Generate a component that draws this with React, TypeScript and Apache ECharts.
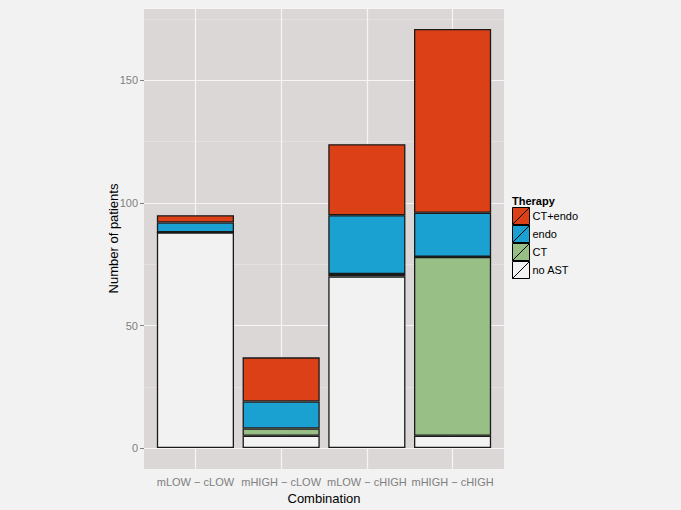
import React, { useEffect, useRef } from "react";
import * as echarts from "echarts";

const categories = ["mLOW − cLOW", "mHIGH − cLOW", "mLOW − cHIGH", "mHIGH − cHIGH"];
const noAST = [88, 5, 70, 5];
const ctOnly = [0, 3, 1, 73];
const endo = [4, 11, 24, 18];
const ctEndo = [3, 18, 29, 75];

const FONT = "Liberation Sans";

export default function App() {
  const ref = useRef<HTMLDivElement>(null);
  useEffect(() => {
    if (!ref.current) return;
    const chart = echarts.init(ref.current, null, { renderer: "svg" });
    const yMax = Math.max(...categories.map((_, i) => noAST[i] + ctOnly[i] + endo[i] + ctEndo[i]));
    const pad = yMax * 0.05;
    const yMin = -pad;
    const yTop = yMax + pad;
    const panelLeft = 144;
    const panelTop = 8;
    const panelWidth = 360;
    const panelHeight = 461;
    const unit = panelWidth / (categories.length - 1 + 1.2);
    const inset = unit * 0.1;
    const posHeight = (yTop / (yTop - yMin)) * panelHeight;
    const border = { borderColor: "#1a1a1a", borderWidth: 1.3 };
    const mkSeries = (name: string, data: number[], color: string, extra: any = {}) => ({
      name,
      type: "bar",
      xAxisIndex: 2,
      yAxisIndex: 2,
      stack: "total",
      barWidth: "90%",
      data,
      itemStyle: { color, ...border },
      ...extra,
    });
    chart.setOption({
      animation: false,
      backgroundColor: "#F2F2F2",
      textStyle: { fontFamily: FONT },
      grid: [
        { left: panelLeft, top: panelTop, width: panelWidth, height: panelHeight, show: true, backgroundColor: "#DBD7D7", borderWidth: 0, containLabel: false, outerBoundsMode: "none" },
        { left: panelLeft, top: panelTop, width: panelWidth, height: posHeight, containLabel: false, outerBoundsMode: "none" },
        { left: panelLeft + inset, top: panelTop, width: panelWidth - 2 * inset, height: panelHeight, containLabel: false, outerBoundsMode: "none" },
      ],
      xAxis: [
        { gridIndex: 0, type: "value", min: 0, max: 1, show: false },
        { gridIndex: 1, type: "value", min: 0, max: 1, show: false },
        {
          gridIndex: 2,
          type: "category",
          data: categories,
          axisLine: { show: false },
          axisTick: { show: true, alignWithLabel: true, length: 4, lineStyle: { color: "#7f7f7f" } },
          axisLabel: { color: "#7f7f7f", fontSize: 11, margin: 7, interval: 0, fontFamily: FONT },
          splitLine: { show: false },
          name: "Combination",
          nameLocation: "middle",
          nameGap: 22,
          nameTextStyle: { color: "#000", fontSize: 13, fontFamily: FONT },
        },
      ],
      yAxis: [
        { gridIndex: 0, type: "value", min: 0, max: 1, show: false },
        {
          gridIndex: 1,
          type: "value",
          min: 0,
          max: yTop,
          interval: 50,
          axisLine: { show: false },
          axisTick: { show: true, length: 4, lineStyle: { color: "#7f7f7f" } },
          axisLabel: {
            color: "#7f7f7f",
            fontSize: 11,
            margin: 6,
            fontFamily: FONT,
            showMaxLabel: false,
          },
          splitLine: { show: true, lineStyle: { color: "#F5F5F5", width: 1.2 } },
          minorTick: { show: false, splitNumber: 2 },
          minorSplitLine: { show: true, lineStyle: { color: "#E6E3E3", width: 0.8 } },
        },
        {
          gridIndex: 2,
          type: "value",
          min: yMin,
          max: yTop,
          axisLine: { show: false },
          axisTick: { show: false },
          axisLabel: { show: false },
          splitLine: { show: false },
          name: "Number of patients",
          nameLocation: "middle",
          nameGap: 33,
          nameRotate: 90,
          nameTextStyle: { color: "#000", fontSize: 13, fontFamily: FONT },
        },
      ],
      legend: {
        orient: "vertical",
        left: 512,
        top: 207,
        padding: 0,
        itemWidth: 17,
        itemHeight: 17,
        itemGap: 0,
        icon: "path://M0,0L17,0L17,17L0,17Z M0,17L17,0",
        data: ["CT+endo", "endo", "CT", "no AST"],
        itemStyle: { borderColor: "#000", borderWidth: 1 },
        textStyle: { color: "#000", fontSize: 11, fontFamily: FONT, padding: [0, 0, 0, -2] },
      },
      graphic: [
        {
          type: "text",
          left: 512,
          top: 195,
          style: { text: "Therapy", font: `bold 11px "${FONT}"`, fill: "#000" },
        },
      ],
      series: [
        mkSeries("no AST", noAST, "#F2F2F2", {
          markLine: {
            silent: true,
            z: 1,
            symbol: "none",
            label: { show: false },
            lineStyle: { color: "#F5F5F5", width: 1.2, type: "solid" },
            data: categories.map((c) => ({ xAxis: c })),
          },
        }),
        mkSeries("CT", ctOnly, "#98BF86"),
        mkSeries("endo", endo, "#1BA1D1"),
        mkSeries("CT+endo", ctEndo, "#DC4016"),
      ],
    });
    return () => chart.dispose();
  }, []);
  return <div ref={ref} style={{ position: "fixed", left: 0, top: 0, width: 681, height: 510 }} />;
}
